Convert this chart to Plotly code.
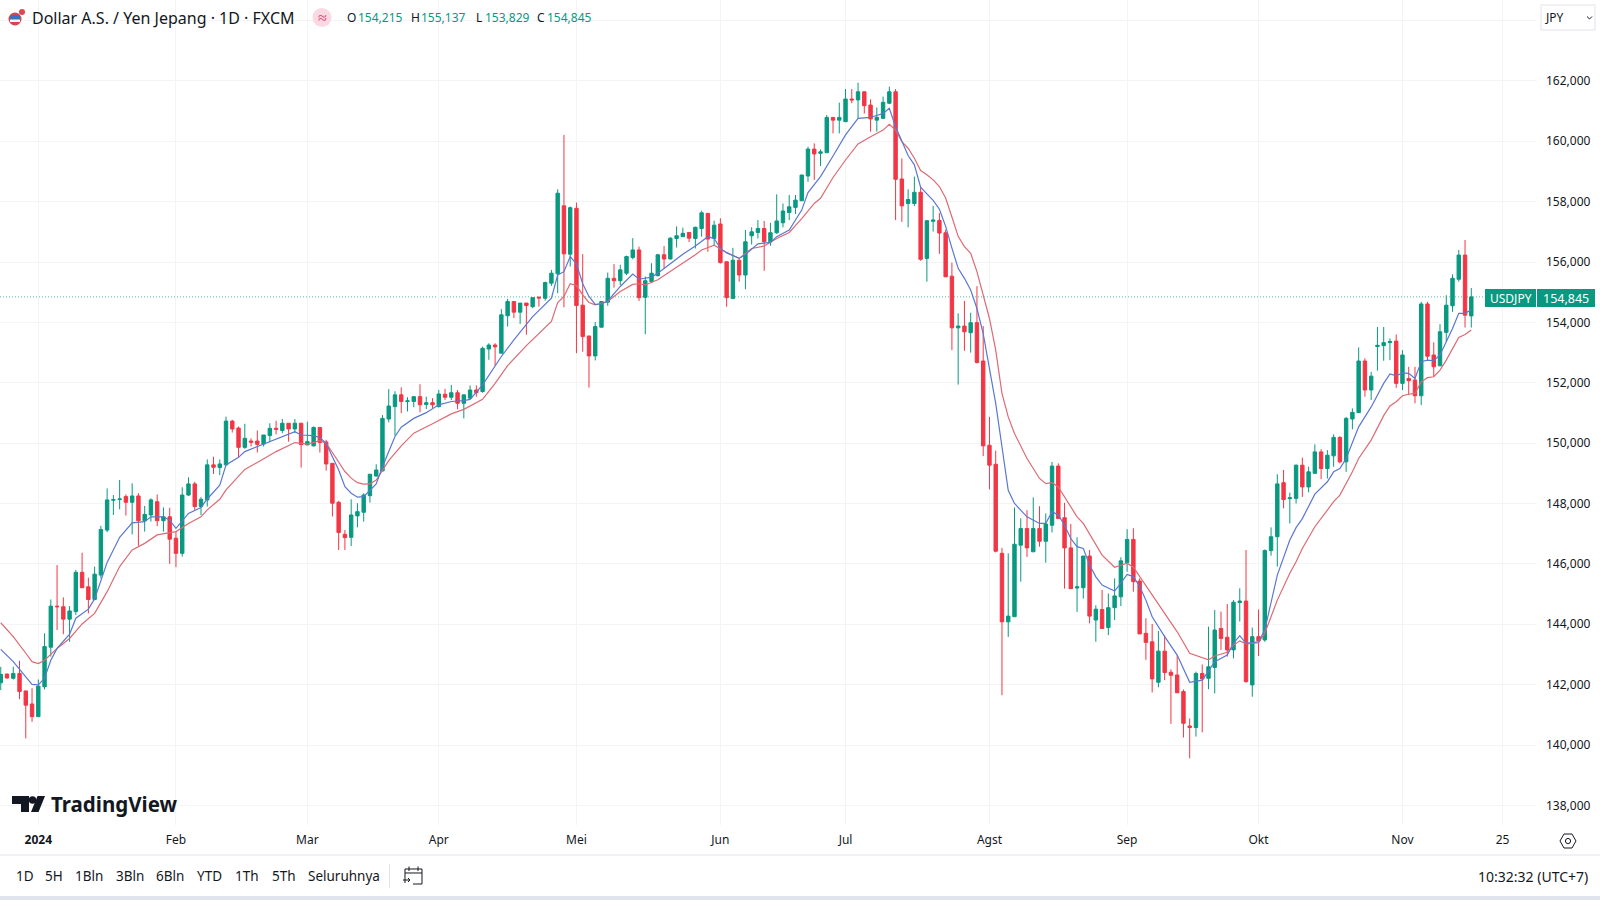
import pandas as pd
import plotly.graph_objects as go

# daily bars, first one is 22 Dec 2023 (no bar on 1 Jan)
all_days = [d.strftime("%Y-%m-%d") for d in pd.bdate_range("2023-12-22", "2024-12-06") if d.strftime("%Y-%m-%d") != "2024-01-01"]

opens = [
    142.06,142.35,142.21,142.37,141.79,141.36,140.94,141.93,143.24,144.60,
    144.58,144.17,144.42,145.72,145.24,144.82,145.63,147.12,148.11,148.13,
    148.23,148.04,148.25,147.43,147.62,148.06,147.43,147.56,146.85,146.35,
    148.28,148.65,147.90,148.12,149.28,149.19,149.28,150.73,150.50,149.86,
    150.07,150.07,149.97,150.25,150.49,150.42,150.66,150.47,150.66,149.94,
    149.91,150.52,150.04,149.33,148.04,146.98,146.88,147.59,147.71,148.26,
    148.91,149.08,150.80,151.21,151.60,151.38,151.38,151.54,151.28,151.34,
    151.21,151.62,151.52,151.67,151.32,151.49,151.76,151.71,153.12,153.25,
    152.98,154.22,154.69,154.34,154.64,154.52,154.84,154.80,155.30,155.61,
    157.86,156.26,157.78,154.57,153.55,152.89,153.84,154.67,155.46,155.38,
    155.63,156.15,156.40,154.83,155.35,155.55,156.24,156.10,156.78,156.84,
    156.98,156.78,157.11,157.61,156.78,157.26,156.01,154.79,156.06,155.57,
    156.87,156.98,157.11,156.67,156.97,157.30,157.64,157.81,158.03,158.85,
    159.74,159.60,159.62,160.79,160.70,160.65,161.40,161.37,161.64,161.20,
    160.70,160.76,161.26,161.64,158.75,157.94,157.94,158.31,156.12,157.35,
    157.38,156.97,155.53,153.82,153.88,153.66,153.99,152.72,149.93,149.30,
    146.35,144.08,144.25,146.62,147.17,146.40,147.17,146.75,147.28,149.24,
    147.53,146.53,145.20,145.21,146.26,144.14,144.49,143.89,144.55,144.91,
    146.04,146.81,145.43,143.70,143.42,142.08,143.11,142.41,142.32,141.77,
    140.63,140.58,142.37,142.21,142.57,143.86,143.57,143.15,144.72,144.77,
    141.99,143.59,143.48,146.44,146.90,148.69,148.16,148.17,149.27,148.55,
    149.00,149.71,149.16,149.58,150.19,149.38,150.80,151.01,152.72,151.76,
    153.20,153.23,153.33,153.38,151.98,152.14,152.09,151.57,154.61,152.92,
    152.56,153.67,154.55,155.43,156.23,154.215,
]
highs = [
    142.59,142.37,142.59,142.79,141.80,141.88,142.17,143.70,144.82,145.96,
    144.89,144.60,145.80,146.37,145.54,145.91,147.26,148.50,148.28,148.78,
    148.30,148.67,148.34,147.92,148.17,148.30,147.87,147.86,147.07,148.54,
    148.87,148.72,148.21,149.46,149.55,149.46,150.88,150.77,150.55,150.64,
    150.16,150.42,150.27,150.66,150.74,150.80,150.66,150.80,150.66,150.71,
    150.55,150.52,150.11,149.33,148.09,147.12,148.14,148.01,148.34,148.97,
    149.30,150.93,151.79,151.72,151.85,151.52,151.56,151.95,151.54,151.49,
    151.76,151.80,151.93,151.76,151.60,151.91,151.91,153.20,153.31,153.31,
    154.44,154.78,154.69,154.64,154.64,154.82,154.84,155.35,155.74,158.41,
    160.21,157.84,157.97,156.26,153.55,154.01,154.71,155.65,155.93,155.91,
    156.21,156.79,156.51,155.52,155.96,156.27,156.53,156.82,157.18,157.14,
    156.98,157.17,157.70,157.63,157.37,157.45,156.01,156.47,156.09,157.06,
    157.15,157.39,157.36,157.30,158.24,157.94,158.22,158.22,158.90,159.82,
    159.93,159.73,160.87,160.79,161.28,161.73,161.73,161.94,161.64,161.39,
    161.12,161.48,161.81,161.73,159.43,158.41,158.83,158.50,157.37,157.86,
    157.62,157.07,155.98,154.30,154.71,154.32,155.20,153.88,150.87,149.75,
    146.53,146.35,147.87,147.51,147.78,148.20,147.91,147.67,149.38,149.33,
    148.02,147.32,146.88,146.26,146.46,144.63,145.14,145.02,145.52,146.22,
    147.15,147.18,145.52,144.20,144.01,143.78,143.64,142.51,142.98,141.84,
    140.88,142.43,142.67,143.92,144.47,144.42,144.67,144.80,145.19,146.46,
    143.89,144.49,146.48,147.21,148.97,149.11,148.36,149.29,149.52,149.22,
    149.96,149.80,149.77,150.29,150.23,150.87,151.15,153.17,152.81,152.36,
    153.85,153.85,153.47,153.60,153.08,152.53,152.53,154.68,154.68,153.34,
    153.94,154.90,155.59,156.40,156.73,155.137,
]
lows = [
    141.82,142.20,142.17,141.52,140.22,140.77,140.94,141.84,142.93,143.81,
    143.67,143.42,144.31,145.21,144.36,144.80,145.52,147.05,147.62,147.81,
    147.60,146.98,146.60,147.07,147.40,147.25,147.07,146.00,145.89,146.24,
    148.25,147.79,147.62,147.90,148.98,148.94,149.25,150.35,149.53,149.81,
    149.89,149.69,149.89,150.03,150.29,150.33,150.05,150.33,149.19,149.94,
    149.89,149.69,149.09,147.57,146.46,146.46,146.59,147.21,147.40,148.03,
    148.89,149.06,150.69,150.25,150.99,151.05,151.19,151.02,151.13,151.16,
    151.18,151.43,151.43,151.12,150.82,151.45,151.54,151.67,152.76,152.56,
    152.98,153.86,154.14,153.95,153.59,154.47,154.52,154.72,155.21,154.97,
    154.50,155.85,152.98,153.03,151.84,152.74,153.84,154.55,155.15,155.24,
    155.57,156.09,154.71,153.61,155.30,155.52,155.79,156.09,156.48,156.84,
    156.66,156.45,156.84,156.34,156.56,155.95,154.52,154.79,155.35,155.10,
    156.58,156.78,155.71,156.54,156.93,157.15,157.39,157.59,158.03,158.66,
    158.72,159.18,159.62,160.26,160.26,160.65,161.26,160.76,160.92,160.32,
    160.32,160.74,161.23,157.39,157.33,157.15,157.85,156.04,155.35,157.01,
    156.27,155.50,153.08,151.94,153.06,153.00,152.64,149.57,148.47,146.38,
    141.65,143.58,144.25,145.41,146.23,146.40,146.57,146.04,147.04,147.50,
    145.18,145.18,144.41,144.85,144.03,143.42,143.86,143.64,144.14,144.60,
    145.74,145.08,143.68,142.82,141.74,141.91,142.15,140.70,141.73,140.25,
    139.56,140.28,140.42,141.85,141.71,143.15,142.93,142.87,144.09,142.06,
    141.60,142.95,143.42,146.27,145.91,147.84,147.34,148.00,148.22,148.37,
    149.00,148.81,148.83,149.22,149.33,149.05,150.46,151.01,151.54,151.43,
    152.40,152.73,152.75,151.83,151.76,151.59,151.32,151.26,152.75,152.20,
    152.56,153.36,154.35,155.35,153.83,153.829,
]
closes = [
    142.34,142.22,142.37,141.77,141.32,140.94,141.95,143.26,144.60,144.58,
    144.17,144.44,145.72,145.21,144.82,145.66,147.14,148.12,148.13,148.15,
    148.04,148.25,147.43,147.64,148.12,147.43,147.56,146.82,146.35,148.28,
    148.65,147.90,148.14,149.28,149.20,149.31,150.73,150.47,149.86,150.16,
    150.03,149.96,150.27,150.49,150.46,150.66,150.47,150.66,149.95,150.05,
    150.52,150.02,149.31,148.01,147.04,146.87,147.62,147.73,148.28,148.97,
    149.11,150.82,151.23,151.60,151.38,151.40,151.54,151.27,151.34,151.27,
    151.63,151.52,151.67,151.32,151.60,151.76,151.67,153.14,153.25,153.19,
    154.25,154.69,154.34,154.64,154.56,154.82,154.81,155.32,155.63,158.28,
    156.27,157.80,154.56,153.53,152.89,153.86,154.69,155.46,155.38,155.74,
    156.18,156.40,154.82,155.38,155.63,156.24,156.10,156.79,156.87,156.95,
    156.79,157.15,157.63,156.76,157.22,155.98,154.82,156.06,155.57,156.67,
    157.00,157.11,156.67,156.97,157.36,157.69,157.83,158.05,158.88,159.74,
    159.58,159.65,160.79,160.70,160.79,161.40,161.37,161.64,161.18,160.74,
    160.79,161.29,161.64,158.74,157.86,158.07,158.31,156.09,157.37,157.39,
    156.96,155.51,153.82,153.88,153.69,153.99,152.67,149.91,149.27,146.42,
    144.08,144.27,146.65,147.17,146.53,147.17,146.75,147.32,149.24,147.50,
    146.53,145.18,145.24,146.26,144.27,144.50,143.86,144.55,144.94,146.10,
    146.81,145.41,143.68,143.40,142.19,143.11,142.40,142.31,141.73,140.72,
    140.58,142.37,142.19,142.59,143.81,143.53,143.15,144.73,144.77,142.10,
    143.59,143.45,146.44,146.90,148.65,148.13,148.19,149.27,148.55,149.05,
    149.71,149.16,149.60,150.19,149.38,150.82,151.02,152.72,151.76,152.22,
    153.24,153.33,153.37,151.98,152.92,152.07,151.57,154.61,152.88,152.53,
    153.69,154.57,155.46,156.23,154.24,154.845,
]

# moving averages, bar number counted from 2 Jan 2024
fast_bars = [-6,-5,-4,-2,-1,0,1,2,3,5,6,8,9,11,13,15,17,18,20,21,22,24,26,27,29,30,32,33,35,38,41,42,44,45,46,47,48,49,50,51,52,54,55,57,58,60,62,64,66,68,69,71,74,76,79,82,83,84,85,86,87,88,89,90,91,93,95,96,98,99,101,103,105,107,108,109,110,112,113,115,117,118,120,122,123,125,127,129,131,133,135,136,137,138,139,140,141,142,143,144,145,146,147,148,149,150,151,152,153,154,155,156,158,160,161,162,163,164,165,166,167,168,169,170,172,173,174,175,176,177,178,180,182,184,186,188,190,191,192,193,195,196,197,198,200,201,202,203,204,206,207,208,209,211,213,215,216,217,218,219,220,221,222,223,224,225,226,227,228,229]
fast_values = [143.17,142.95,142.76,142.26,142.01,141.99,142.21,142.81,143.20,143.67,144.20,144.50,144.84,146.05,146.88,147.36,147.40,147.56,147.56,147.45,147.18,147.67,147.87,148.15,148.61,149.28,149.53,149.72,149.89,150.15,150.38,150.27,150.25,150.18,150.00,149.55,149.11,148.56,148.34,148.21,148.23,148.65,149.22,150.22,150.53,150.82,151.01,151.27,151.38,151.41,151.45,151.93,152.87,153.42,154.19,154.80,155.57,155.68,156.18,155.94,155.28,154.86,154.60,154.61,154.71,155.19,155.60,155.43,155.50,155.63,155.96,156.26,156.53,156.84,156.78,156.45,156.31,156.12,156.25,156.60,156.65,156.84,157.06,157.72,158.30,158.83,159.51,160.21,160.76,160.79,160.92,161.09,160.48,159.99,159.53,159.22,158.48,158.26,158.04,157.75,157.18,156.46,155.79,155.46,155.07,154.46,153.63,152.47,151.32,149.88,148.44,148.00,147.56,147.34,147.34,147.73,147.62,147.28,146.84,146.57,146.51,145.96,145.57,145.30,145.10,145.36,145.65,145.58,145.25,144.80,144.25,143.59,142.98,142.08,142.15,142.76,142.98,143.37,143.62,143.37,143.42,143.81,144.75,145.63,146.79,147.20,147.50,147.89,148.31,148.72,149.05,149.16,149.49,150.54,151.20,151.98,152.29,152.23,152.33,152.31,152.14,152.70,152.75,152.73,152.92,153.36,153.80,154.30,154.30,154.42]
slow_bars = [-6,-4,-2,-1,0,1,3,5,7,9,11,13,15,17,19,21,22,24,26,27,29,30,32,33,35,38,41,43,45,46,47,48,49,50,51,52,53,54,55,56,58,60,63,66,68,71,73,75,78,82,83,84,85,86,87,88,89,91,93,95,96,97,99,101,103,105,106,108,110,112,114,116,118,120,122,124,125,127,129,131,133,135,136,137,138,139,140,141,142,143,144,145,146,147,148,149,150,151,152,153,154,155,156,158,160,161,162,163,164,166,167,169,170,172,174,175,176,178,180,182,184,187,188,190,191,192,193,195,196,197,198,200,201,202,204,206,207,208,210,211,213,215,216,217,218,219,220,221,222,223,224,225,226,227,228,229]
slow_values = [144.05,143.59,143.04,142.76,142.70,142.81,143.20,143.53,144.01,144.36,145.08,145.91,146.46,146.68,146.96,147.05,147.07,147.34,147.56,147.79,148.14,148.45,148.91,149.13,149.36,149.72,150.02,149.97,150.08,150.00,149.69,149.39,149.06,148.84,148.69,148.64,148.65,148.78,149.11,149.42,149.91,150.33,150.64,150.97,151.12,151.45,151.98,152.57,153.23,154.03,154.66,154.86,155.28,155.22,154.91,154.66,154.58,154.69,155.02,155.26,155.28,155.24,155.41,155.68,155.96,156.24,156.40,156.56,156.31,156.12,156.45,156.53,156.78,156.98,157.44,157.94,158.11,158.80,159.38,159.91,160.15,160.37,160.56,160.37,159.99,159.77,159.44,159.03,158.89,158.72,158.50,158.12,157.49,156.85,156.51,156.29,155.68,154.90,154.13,153.08,151.65,150.87,150.32,149.49,148.83,148.66,148.69,148.55,148.22,147.56,147.34,146.62,146.29,145.89,146.02,145.89,145.58,144.97,144.34,143.75,143.04,142.82,142.95,143.07,143.31,143.45,143.35,143.39,143.70,144.25,144.80,145.69,146.07,146.51,147.23,147.78,148.06,148.28,149.05,149.49,150.10,150.91,151.23,151.37,151.57,151.62,151.65,152.03,152.17,152.20,152.42,152.75,153.14,153.50,153.60,153.75]

price_ticks = [164, 162, 160, 158, 156, 154, 152, 150, 148, 146, 144, 142, 140, 138]
price_labels = ["", "162,000", "160,000", "158,000", "156,000", "154,000", "152,000", "150,000", "148,000", "146,000", "144,000", "142,000", "140,000", "138,000"]
month_ticks = ["2024-01-02", "2024-02-01", "2024-03-01", "2024-04-01", "2024-05-01", "2024-06-03", "2024-07-01", "2024-08-01", "2024-09-02", "2024-10-01", "2024-11-01", "2024-11-25"]
month_labels = ["<b>2024</b>", "Feb", "Mar", "Apr", "Mei", "Jun", "Jul", "Agst", "Sep", "Okt", "Nov", "25"]
last_price = 154.845
range_buttons = ["1D", "5H", "1Bln", "3Bln", "6Bln", "YTD", "1Th", "5Th", "Seluruhnya"]
range_button_x = [15, 44, 74, 115, 155, 196, 234, 271, 307]

GREEN = "#089981"
RED = "#F23645"
INK = "#131722"
GRID = "#F3F4F6"
FONT = "Noto Sans"

# plot area in window pixels, everything outside it is placed from these
PLOT_W = 1537
PLOT_H = 825
jan2 = all_days.index("2024-01-02")


def px(x):
    return x / PLOT_W


def py(y):
    return 1 - y / PLOT_H


fig = go.Figure()

fig.add_trace(go.Candlestick(
    x=all_days[:len(opens)],
    open=opens,
    high=highs,
    low=lows,
    close=closes,
    increasing=dict(line=dict(color=GREEN, width=1), fillcolor=GREEN),
    decreasing=dict(line=dict(color=RED, width=1), fillcolor=RED),
    whiskerwidth=0,
    hoverinfo="skip",
))
fig.add_trace(go.Scatter(
    x=[all_days[jan2 + b] for b in slow_bars],
    y=slow_values,
    mode="lines",
    line=dict(color="#DD6A74", width=1.2),
    hoverinfo="skip",
))
fig.add_trace(go.Scatter(
    x=[all_days[jan2 + b] for b in fast_bars],
    y=fast_values,
    mode="lines",
    line=dict(color="#5B78D0", width=1.2),
    hoverinfo="skip",
))

shapes = []
annotations = []


def label(x, y, text, size=12, color=INK, anchor="left"):
    annotations.append(dict(
        x=px(x), y=py(y), xref="paper", yref="paper", text=text, showarrow=False,
        xanchor=anchor, yanchor="middle", xshift=0, borderpad=0,
        font=dict(family=FONT, size=size, color=color),
    ))


def rect(x0, y0, x1, y1, fill, line=None, line_width=0):
    shapes.append(dict(
        type="rect", xref="paper", yref="paper", layer="above",
        x0=px(x0), x1=px(x1), y0=py(y0), y1=py(y1), fillcolor=fill,
        line=dict(color=line or fill, width=line_width),
    ))


def circle(cx, cy, r, fill, line=None, line_width=0):
    shapes.append(dict(
        type="circle", xref="paper", yref="paper", layer="above",
        x0=px(cx - r), x1=px(cx + r), y0=py(cy - r), y1=py(cy + r), fillcolor=fill,
        line=dict(color=line or fill, width=line_width),
    ))


def polygon(points, fill=None, line=None, line_width=0, closed=True):
    path = "M " + " L ".join(f"{px(x):.5f},{py(y):.5f}" for x, y in points) + (" Z" if closed else "")
    shapes.append(dict(
        type="path", xref="paper", yref="paper", layer="above", path=path,
        fillcolor=fill or "rgba(0,0,0,0)",
        line=dict(color=line or "rgba(0,0,0,0)", width=line_width),
    ))


# last price line and its tags
shapes.append(dict(
    type="line", xref="paper", yref="y", layer="below", x0=0, x1=1,
    y0=last_price, y1=last_price, line=dict(color="#5DBBA9", width=1, dash="1px,2px"),
))
rect(1485, 289, 1595, 307, GREEN)
polygon([(1536.5, 289), (1536.5, 307)], line="#FFFFFF", line_width=1, closed=False)
label(1510.5, 298, "USDJPY", 12, "#FFFFFF", "center")
label(1566, 298, "154,845", 12.5, "#FFFFFF", "center")

# header
circle(15, 19, 6.5, "#D9434F")
rect(10, 15, 20, 19.5, "#3C6FC4")
rect(10, 19.5, 20, 22, "#F2F2F2")
circle(22, 12, 3, "#E0444F")
label(31, 17.5, "Dollar A.S. / Yen Jepang · 1D · FXCM", 16)
circle(322, 17.5, 9.5, "#FBD9E3")
label(322, 17, "≈", 16, "#E0356E", "center")
label(346, 17.5, "O", 12)
label(357, 17.5, "154,215", 12, GREEN)
label(410, 17.5, "H", 12)
label(420, 17.5, "155,137", 12, GREEN)
label(475, 17.5, "L", 12)
label(484, 17.5, "153,829", 12, GREEN)
label(536, 17.5, "C", 12)
label(546, 17.5, "154,845", 12, GREEN)

# currency button
shapes.append(dict(
    type="rect", xref="paper", yref="paper", layer="above",
    x0=px(1541), x1=px(1595), y0=py(5), y1=py(30), fillcolor="#FFFFFF",
    line=dict(color="#E0E3EB", width=1),
))
label(1544, 17.5, "JPY", 12)
polygon([(1587, 16.5), (1589.5, 19), (1592, 16.5)], line=INK, line_width=1, closed=False)

# TradingView mark and name
polygon([(12, 796), (29, 796), (29, 812), (21, 812), (21, 804), (12, 804)], fill=INK)
circle(32.5, 800, 3.7, INK)
polygon([(37.5, 796), (45, 796), (38.5, 812), (31, 812)], fill=INK)
label(50, 803.5, "<b>TradingView</b>", 20.5, INK)

# bottom toolbar
polygon([(0, 855), (1600, 855)], line="#E0E3EB", line_width=1, closed=False)
rect(0, 896, 1600, 900, "#E0E4EF")
for text, x in zip(range_buttons, range_button_x):
    label(x, 876, text, 13.5)
polygon([(389.5, 864), (389.5, 888)], line="#E0E3EB", line_width=1, closed=False)
polygon([(405, 883), (405, 869), (422, 869), (422, 884), (413, 884)], line=INK, line_width=1, closed=False)
polygon([(405, 873), (422, 873)], line=INK, line_width=1, closed=False)
polygon([(409, 866.5), (409, 871)], line=INK, line_width=1, closed=False)
polygon([(418, 866.5), (418, 871)], line=INK, line_width=1, closed=False)
polygon([(403, 880), (410, 880)], line=INK, line_width=1, closed=False)
polygon([(408, 878), (410, 880), (408, 882)], line=INK, line_width=1, closed=False)
label(1589, 876, "10:32:32 (UTC+7)", 14, INK, "right")

# settings cog
polygon([(1560, 841), (1564, 834), (1572, 834), (1576, 841), (1572, 848), (1564, 848)], line=INK, line_width=1)
circle(1568, 841, 2.6, "#FFFFFF", INK, 1)

fig.update_layout(
    width=1600,
    height=900,
    margin=dict(l=0, r=1600 - PLOT_W, t=0, b=900 - PLOT_H, pad=0),
    paper_bgcolor="#FFFFFF",
    plot_bgcolor="#FFFFFF",
    showlegend=False,
    hovermode=False,
    boxgap=0.22,
    shapes=shapes,
    annotations=annotations,
    font=dict(family=FONT, color=INK, size=12),
    xaxis=dict(
        type="category",
        categoryorder="array",
        categoryarray=all_days,
        range=[-0.12, 245.5],
        tickmode="array",
        tickvals=month_ticks,
        ticktext=month_labels,
        tickangle=0,
        showgrid=True,
        gridcolor=GRID,
        gridwidth=1,
        zeroline=False,
        showline=False,
        ticks="",
        rangeslider=dict(visible=False),
        tickfont=dict(family=FONT, size=12, color=INK),
        ticklabelstandoff=6,
        fixedrange=True,
    ),
    yaxis=dict(
        side="right",
        range=[137.35, 164.68],
        tickmode="array",
        tickvals=price_ticks,
        ticktext=price_labels,
        showgrid=True,
        gridcolor=GRID,
        gridwidth=1,
        zeroline=False,
        showline=False,
        ticks="",
        tickfont=dict(family=FONT, size=12, color=INK),
        ticklabelstandoff=8,
        fixedrange=True,
    ),
)

fig.write_html(
    "out.html",
    config=dict(displayModeBar=False),
    post_script="document.body.style.margin='0';document.body.style.overflow='hidden';",
)
